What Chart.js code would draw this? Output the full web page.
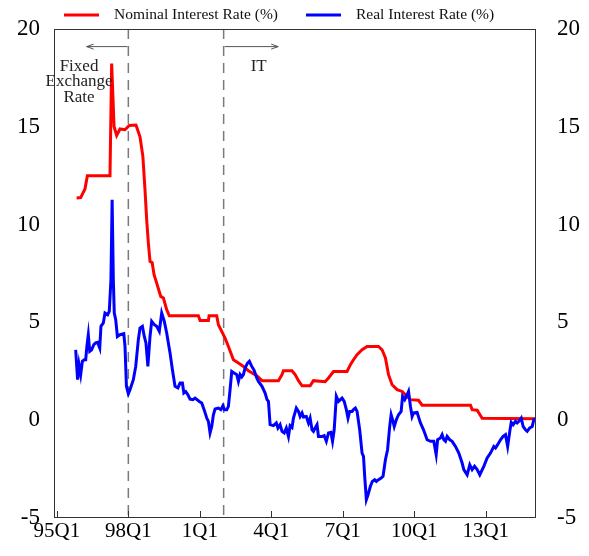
<!doctype html>
<html lang="en">
<head>
<meta charset="utf-8">
<title>Nominal and Real Interest Rate</title>
<script src="https://cdn.jsdelivr.net/npm/chart.js@4.4.1/dist/chart.umd.min.js"></script>
<style>
  html, body { margin: 0; padding: 0; background: #fff; }
  #wrap { width: 589px; height: 556px; }
</style>
</head>
<body>
<div id="wrap"><canvas id="canvas" width="589" height="556"></canvas></div>
<script>
// time axis in decimal years, values in percent
var nominalDates = [
  1995.83, 1996.00, 1996.18, 1996.28, 1997.23, 1997.30, 1997.40, 1997.51, 1997.65, 1997.86,
  1998.04, 1998.32, 1998.49, 1998.61, 1998.70, 1998.77, 1998.84, 1998.91, 1999.00, 1999.08,
  1999.19, 1999.36, 1999.47, 1999.61, 1999.72, 2000.94, 2001.01, 2001.36, 2001.39, 2001.71,
  2001.78, 2001.92, 2002.06, 2002.20, 2002.41, 2002.62, 2002.83, 2003.04, 2003.39, 2003.61,
  2004.30, 2004.45, 2004.51, 2004.87, 2005.00, 2005.14, 2005.29, 2005.63, 2005.77, 2006.26,
  2006.40, 2006.61, 2007.18, 2007.32, 2007.45, 2007.60, 2007.81, 2008.02, 2008.50, 2008.65,
  2008.79, 2008.92, 2009.07, 2009.28, 2009.49, 2009.70, 2009.84, 2010.18, 2010.33, 2012.36,
  2012.43, 2012.64, 2012.85, 2015.10
];
var nominalRate = [
  11.36, 11.38, 11.82, 12.50, 12.50, 18.23, 15.02, 14.56, 14.89, 14.85,
  15.07, 15.09, 14.49, 13.49, 11.78, 10.25, 9.06, 8.12, 8.05, 7.44,
  7.01, 6.33, 6.25, 5.65, 5.34, 5.34, 5.10, 5.10, 5.34, 5.34,
  4.88, 4.54, 4.20, 3.77, 3.09, 2.92, 2.75, 2.53, 2.28, 2.02,
  2.02, 2.33, 2.53, 2.53, 2.33, 2.02, 1.76, 1.76, 2.02, 1.97,
  2.16, 2.49, 2.49, 2.84, 3.09, 3.35, 3.60, 3.77, 3.77, 3.60,
  3.18, 2.33, 1.81, 1.56, 1.47, 1.22, 1.05, 1.02, 0.77, 0.77,
  0.54, 0.51, 0.10, 0.08
];

var realDates = [
  1995.79, 1995.87, 1995.93, 1996.00, 1996.07, 1996.15, 1996.21, 1996.26, 1996.32, 1996.38,
  1996.46, 1996.55, 1996.63, 1996.71, 1996.80, 1996.85, 1996.95, 1997.02, 1997.13, 1997.20,
  1997.27, 1997.32, 1997.37, 1997.41, 1997.47, 1997.54, 1997.65, 1997.81, 1997.86, 1997.92,
  1998.00, 1998.07, 1998.21, 1998.31, 1998.42, 1998.49, 1998.59, 1998.67, 1998.74, 1998.82,
  1998.91, 1998.98, 1999.09, 1999.19, 1999.30, 1999.40, 1999.51, 1999.61, 1999.75, 1999.85,
  1999.96, 2000.08, 2000.17, 2000.27, 2000.33, 2000.41, 2000.50, 2000.59, 2000.71, 2000.80,
  2000.98, 2001.08, 2001.18, 2001.29, 2001.36, 2001.43, 2001.50, 2001.57, 2001.64, 2001.78,
  2001.88, 2001.97, 2002.03, 2002.13, 2002.20, 2002.27, 2002.34, 2002.44, 2002.55, 2002.62,
  2002.69, 2002.76, 2002.83, 2002.90, 2003.00, 2003.08, 2003.18, 2003.28, 2003.39, 2003.46,
  2003.61, 2003.74, 2003.82, 2003.88, 2003.95, 2004.09, 2004.21, 2004.28, 2004.37, 2004.45,
  2004.54, 2004.63, 2004.72, 2004.79, 2004.87, 2004.93, 2005.05, 2005.14, 2005.21, 2005.29,
  2005.35, 2005.47, 2005.56, 2005.63, 2005.71, 2005.77, 2005.84, 2005.92, 2005.98, 2006.13,
  2006.22, 2006.31, 2006.40, 2006.50, 2006.57, 2006.64, 2006.73, 2006.82, 2006.97, 2007.06,
  2007.15, 2007.22, 2007.29, 2007.39, 2007.45, 2007.53, 2007.60, 2007.71, 2007.81, 2007.87,
  2007.92, 2007.99, 2008.06, 2008.16, 2008.24, 2008.34, 2008.41, 2008.50, 2008.61, 2008.69,
  2008.79, 2008.88, 2008.97, 2009.03, 2009.11, 2009.16, 2009.25, 2009.34, 2009.45, 2009.51,
  2009.60, 2009.70, 2009.76, 2009.84, 2009.91, 2009.97, 2010.12, 2010.26, 2010.39, 2010.54,
  2010.68, 2010.82, 2010.92, 2010.98, 2011.10, 2011.17, 2011.24, 2011.31, 2011.38, 2011.49,
  2011.59, 2011.73, 2011.87, 2012.01, 2012.08, 2012.22, 2012.33, 2012.43, 2012.53, 2012.64,
  2012.75, 2012.92, 2013.06, 2013.20, 2013.34, 2013.41, 2013.50, 2013.62, 2013.73, 2013.83,
  2013.92, 2014.01, 2014.07, 2014.15, 2014.25, 2014.32, 2014.39, 2014.49, 2014.57, 2014.67,
  2014.74, 2014.84, 2014.95, 2015.02, 2015.10
];
var realRate = [
  3.60, 2.07, 2.84, 2.33, 3.01, 3.09, 3.09, 3.77, 4.37, 3.52,
  3.60, 3.86, 3.95, 3.98, 3.69, 4.80, 4.97, 5.48, 5.39, 5.56,
  7.18, 11.27, 7.18, 5.48, 5.14, 4.28, 4.37, 4.42, 3.77, 1.73,
  1.35, 1.56, 2.07, 2.75, 4.12, 4.71, 4.80, 4.28, 3.95, 2.75,
  4.28, 5.05, 4.88, 4.80, 4.54, 5.48, 5.05, 4.46, 3.44, 2.58,
  1.73, 1.65, 1.90, 1.90, 1.39, 1.46, 1.30, 1.08, 1.05, 1.13,
  0.96, 0.88, 0.54, 0.11, -0.06, -0.65, -0.32, 0.28, 0.57, 0.62,
  0.54, 0.74, 0.54, 0.54, 0.71, 1.56, 2.49, 2.41, 2.33, 1.98,
  2.33, 2.21, 2.33, 2.67, 2.92, 3.01, 2.75, 2.55, 2.16, 1.98,
  1.73, 1.39, 1.05, 0.96, -0.23, -0.28, -0.14, -0.40, -0.23, -0.57,
  -0.65, -0.40, -0.83, -0.28, -0.37, 0.11, 0.62, 0.45, 0.19, 0.37,
  0.16, 0.19, -0.14, 0.11, -0.49, -0.57, -0.40, -0.23, -0.83, -0.83,
  -0.79, -1.08, -0.65, -0.62, -1.08, -0.49, 1.22, 0.96, 1.13, 0.96,
  0.54, 0.11, 0.45, 0.45, 0.54, 0.62, 0.45, -0.49, -1.68, -1.85,
  -2.87, -4.06, -3.81, -3.38, -3.13, -3.04, -3.13, -3.04, -2.96, -2.87,
  -2.02, -1.51, -0.32, 0.28, -0.06, -0.32, 0.03, 0.28, 0.45, 1.22,
  1.05, 1.30, 1.47, 0.71, 0.19, 0.37, 0.40, -0.14, -0.49, -1.00,
  -1.08, -1.08, -1.76, -1.00, -0.91, -0.74, -1.00, -1.08, -0.83, -1.00,
  -1.08, -1.34, -1.68, -2.19, -2.53, -2.79, -2.28, -2.53, -2.36, -2.53,
  -2.79, -2.36, -1.93, -1.68, -1.34, -1.42, -1.25, -1.00, -0.83, -0.74,
  -1.34, -0.57, -0.11, -0.23, -0.06, -0.14, -0.06, 0.11, -0.32, -0.49,
  -0.57, -0.40, -0.32, 0.03, 0.06
];

var tickYears = [1995, 1998, 2001, 2004, 2007, 2010, 2013];
var tickLabels = ['95Q1', '98Q1', '1Q1', '4Q1', '7Q1', '10Q1', '13Q1'];
var yTicks = [-5, 0, 5, 10, 15, 20];
var regimeBreaks = [1998, 2002];

var serif = "'Liberation Serif', 'Times New Roman', serif";

function toPoints(dates, vals) {
  return dates.map(function(d, i) { return { x: d, y: vals[i] }; });
}

function arrow(ctx, x0, x1, y) {
  var dir = x1 > x0 ? 1 : -1;
  ctx.beginPath();
  ctx.moveTo(x0, y); ctx.lineTo(x1, y);
  ctx.moveTo(x1 - dir * 7, y - 2.5); ctx.lineTo(x1, y); ctx.lineTo(x1 - dir * 7, y + 2.5);
  ctx.stroke();
}

var extras = {
  id: 'extras',
  beforeDatasetsDraw: function(chart) {
    var ctx = chart.ctx, a = chart.chartArea, xs = chart.scales.x;
    ctx.save();
    ctx.strokeStyle = '#7a7a7a';
    ctx.lineWidth = 1.5;
    ctx.setLineDash([10, 7]);
    regimeBreaks.forEach(function(yr) {
      var px = xs.getPixelForValue(yr);
      ctx.beginPath(); ctx.moveTo(px, a.top); ctx.lineTo(px, a.bottom); ctx.stroke();
    });
    ctx.restore();
  },
  afterDraw: function(chart) {
    var ctx = chart.ctx, a = chart.chartArea, xs = chart.scales.x, ys = chart.scales.y;
    ctx.save();
    // frame
    ctx.strokeStyle = '#333';
    ctx.lineWidth = 1;
    ctx.strokeRect(Math.round(a.left) + 0.5, Math.round(a.top) + 0.5,
                   Math.round(a.right - a.left) - 1, Math.round(a.bottom - a.top) - 1);
    // inward tick marks on the time axis
    tickYears.forEach(function(yr) {
      var px = Math.round(xs.getPixelForValue(yr)) + 0.5;
      ctx.beginPath(); ctx.moveTo(px, a.bottom); ctx.lineTo(px, a.bottom - 7); ctx.stroke();
    });
    // regime arrows
    ctx.strokeStyle = '#555';
    var b0 = xs.getPixelForValue(regimeBreaks[0]), b1 = xs.getPixelForValue(regimeBreaks[1]);
    var ay = ys.getPixelForValue(19.1);
    arrow(ctx, b0 - 1, xs.getPixelForValue(1996.25), ay);
    arrow(ctx, b1 + 1, xs.getPixelForValue(2004.29), ay);
    // regime labels
    ctx.fillStyle = '#222';
    ctx.font = '17px ' + serif;
    ctx.textAlign = 'center';
    ctx.textBaseline = 'middle';
    var fx = xs.getPixelForValue(1995.93);
    ctx.fillText('Fixed', fx, ys.getPixelForValue(18.09));
    ctx.fillText('Exchange', fx, ys.getPixelForValue(17.3));
    ctx.fillText('Rate', fx, ys.getPixelForValue(16.5));
    ctx.fillText('IT', xs.getPixelForValue(2003.47), ys.getPixelForValue(18.09));
    // legend
    var starts = [64, 306];
    ctx.textAlign = 'left';
    ctx.font = '15.5px ' + serif;
    chart.data.datasets.forEach(function(ds, i) {
      var x0 = starts[i];
      ctx.strokeStyle = ds.borderColor;
      ctx.lineWidth = 3;
      ctx.beginPath(); ctx.moveTo(x0, 15); ctx.lineTo(x0 + 35, 15); ctx.stroke();
      ctx.fillStyle = '#111';
      ctx.fillText(ds.label, x0 + 50, 15);
    });
    ctx.restore();
  }
};

// label gap comes from an invisible tick length so the scale adds no extra top padding
function yAxis(pos, width, gap) {
  return {
    position: pos,
    min: -5,
    max: 20,
    grid: { display: false, drawTicks: true, tickLength: gap },
    border: { display: false },
    afterBuildTicks: function(s) { s.ticks = yTicks.map(function(v) { return { value: v }; }); },
    afterFit: function(s) { s.width = width; },
    ticks: {
      padding: 0,
      color: '#000',
      font: { family: serif, size: 23 },
      callback: function(v) { return String(v); }
    }
  };
}

new Chart(document.getElementById('canvas'), {
  type: 'line',
  data: {
    datasets: [{
      label: 'Nominal Interest Rate (%)',
      data: toPoints(nominalDates, nominalRate),
      borderColor: '#ff0000',
      borderWidth: 3,
      pointRadius: 0,
      tension: 0,
      order: 1
    }, {
      label: 'Real Interest Rate (%)',
      data: toPoints(realDates, realRate),
      borderColor: '#0000ff',
      borderWidth: 3,
      pointRadius: 0,
      tension: 0,
      order: 0
    }]
  },
  options: {
    responsive: false,
    animation: false,
    devicePixelRatio: 1,
    layout: { padding: { top: 29, left: 0, right: 0, bottom: 0 } },
    plugins: { legend: { display: false }, tooltip: { enabled: false } },
    scales: {
      x: {
        type: 'linear',
        min: 1994.88,
        max: 2015.11,
        grid: { display: false, drawTicks: false },
        border: { display: false },
        afterBuildTicks: function(s) { s.ticks = tickYears.map(function(v) { return { value: v }; }); },
        afterFit: function(s) { s.height = 38; },
        ticks: {
          padding: 1,
          maxRotation: 0,
          autoSkip: false,
          color: '#000',
          font: { family: serif, size: 21 },
          callback: function(v) { return tickLabels[tickYears.indexOf(v)]; }
        }
      },
      y: yAxis('left', 54, 14),
      y2: yAxis('right', 53, 21)
    }
  },
  plugins: [extras]
});
</script>
</body>
</html>
